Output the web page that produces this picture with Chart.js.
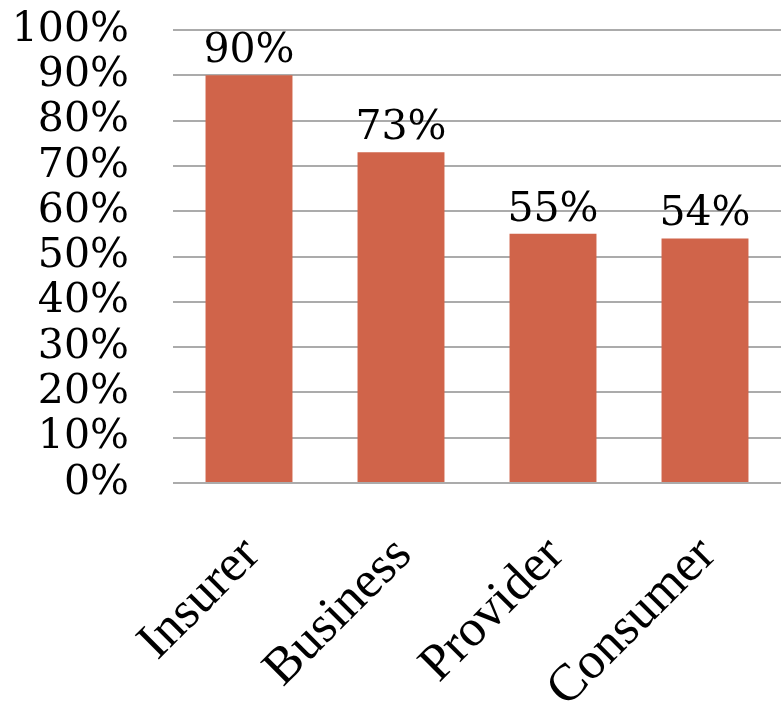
<!DOCTYPE html>
<html>
<head>
<meta charset="utf-8">
<script src="https://cdn.jsdelivr.net/npm/chart.js@4/dist/chart.umd.min.js"></script>
<style>
  html, body { margin: 0; padding: 0; background: #fff; }
  #wrap { width: 781px; height: 705px; }
</style>
</head>
<body>
<div id="wrap"><canvas id="c" width="781" height="705"></canvas></div>
<script>
// Share of respondents per stakeholder group
const categories = ['Insurer', 'Business', 'Provider', 'Consumer'];
const shares = [90, 73, 55, 54];
const yTicks = [0, 10, 20, 30, 40, 50, 60, 70, 80, 90, 100];

const FONT = '"DejaVu Serif", "Liberation Serif", serif';
const CAT_FONT = '"Liberation Serif", "DejaVu Serif", serif';
const FONT_SIZE = 41;
const BAR_COLOR = '#D0644A';

// Writes the percentage above each bar
const valueLabels = {
  id: 'valueLabels',
  afterDatasetsDraw(chart) {
    const ctx = chart.ctx;
    const meta = chart.getDatasetMeta(0);
    ctx.save();
    ctx.font = FONT_SIZE + 'px ' + FONT;
    ctx.fillStyle = '#000';
    ctx.textAlign = 'center';
    ctx.textBaseline = 'alphabetic';
    meta.data.forEach((bar, i) => {
      ctx.fillText(shares[i] + '%', bar.x, bar.y - 13);
    });
    ctx.restore();
  }
};

new Chart(document.getElementById('c'), {
  type: 'bar',
  data: {
    labels: categories,
    datasets: [{
      data: shares,
      backgroundColor: BAR_COLOR,
      borderWidth: 0,
      categoryPercentage: 1,
      barPercentage: 0.572
    }]
  },
  options: {
    responsive: false,
    animation: false,
    layout: { padding: { top: 30, right: 0, left: 0, bottom: 0 } },
    plugins: { legend: { display: false }, tooltip: { enabled: false } },
    scales: {
      x: {
        grid: { display: false, drawTicks: false },
        border: { display: false },
        ticks: {
          color: '#000',
          font: { family: CAT_FONT, size: 52 },
          maxRotation: 45,
          minRotation: 45,
          autoSkip: false,
          labelOffset: 3,
          padding: 42
        },
        afterFit(scale) {
          scale.height = 222;
          scale.paddingLeft = 0;
          scale.paddingRight = 0;
        }
      },
      y: {
        min: 0,
        max: 100,
        afterBuildTicks(scale) { scale.ticks = yTicks.map(v => ({ value: v })); },
        grid: {
          color: '#ababab',
          lineWidth: 2,
          drawTicks: true,
          tickLength: 44,
          tickColor: 'rgba(0,0,0,0)'
        },
        border: { display: false },
        ticks: {
          color: '#000',
          font: { family: FONT, size: FONT_SIZE },
          padding: 0,
          autoSkip: false,
          callback: v => v + '%'
        },
        afterFit(scale) { scale.width = 173; }
      }
    }
  },
  plugins: [valueLabels]
});
</script>
</body>
</html>
